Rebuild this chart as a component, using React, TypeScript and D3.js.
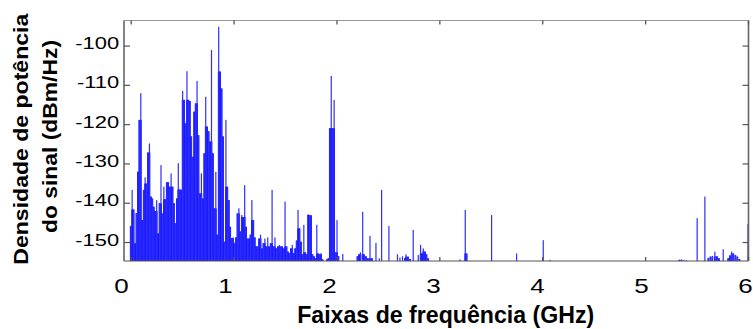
import React from 'react';
import * as d3 from 'd3';

const W = 753;
const H = 329;

const xTicks = [0, 1, 2, 3, 4, 5, 6];
const yTicks = [-150, -140, -130, -120, -110, -100];

// dense part of the spectrum: values on a regular frequency grid
const denseStart = -0.0049; // GHz
const denseStep = 0.014023; // GHz
const denseDb = [
  -145.8, -136.6, -141.6, -150.2, -142.5, -132, -118.8, -112, -144.3, -136.6,
  -133.4, -135, -127.1, -124.8, -138.3, -138.8, -140.9, -142, -139.2, -147.7,
  -140, -130.3, -142.6, -135.8, -139, -134.7, -134.6, -135.8, -132.4, -135.8,
  -140, -145.1, -138.8, -129.8, -136.5, -136.6, -111.4, -113.7, -119.7, -106.4,
  -113.7, -114, -123, -128.2, -116.7, -114.6, -108.9, -122.7, -137.5, -132.4,
  -138.8, -127.3, -112.9, -120.5, -121.7, -124.3, -101, -127.3, -141.3, -132,
  -148, -95.1, -106.5, -110.8, -123, -149.8, -118.8, -135.8, -139.2, -146,
  -148.9, -148.7, -150.1, -148.7, -142.6, -141.3, -147.2, -143, -143.5, -135.4,
  -146, -149, -149, -148, -139.2, -144.3, -148.7, -151, -151, -149,
  -148, -151.5, -150.2, -149, -151, -148.7, -151, -150.2, -136.6, -151,
  -148.7, -151.5, -151, -150.6, -151, -151, -151.5, -139.6, -151, -152.3,
  -152.7, -151.5, -150.6, -152.7, -151.5, -149.5, -141.7, -146.4, -149.8, -153,
  -145.5, -152.5, -153, -142.8, -143, -143.1, -153, -153.5, -154, -145.5,
  -152.8, -153, -152.7, -154.3, -156, -156, -154.3, -154, -120.9, -107.6,
  -120.9, -113.7, -152.5, -144.3, -153.5, -156, -156, -152.9,
];

// isolated spikes and small clusters above 2 GHz
const spikeFreq = [
  2.199, 2.214, 2.228, 2.25, 2.262, 2.282, 2.301, 2.321, 2.34,
  2.379, 2.411, 2.434, 2.505,
  2.588, 2.612, 2.637, 2.661, 2.671, 2.69, 2.71,
  2.741,
  2.79, 2.813, 2.826, 2.839, 2.855, 2.87, 2.887,
  3.195, 3.247, 3.26, 3.503, 3.746, 4.005, 4.07,
  5.327, 5.348, 5.372, 5.398,
  5.501, 5.576,
  5.61, 5.63, 5.649, 5.673, 5.693, 5.712,
  5.754,
  5.803, 5.819, 5.836, 5.853, 5.873, 5.892, 5.912,
  5.995,
];
const spikeDb = [
  -153.5, -153, -152.5, -142.2, -153, -153.5, -154, -148.3, -154,
  -150.1, -154, -136.6, -145.8,
  -153, -153.8, -153.5, -154, -153, -153.6, -154.2,
  -146.8,
  -153.2, -150.6, -152.8, -151.5, -152.3, -153, -154,
  -154.3, -141.7, -152.8, -143, -152.8, -149.4, -154.4,
  -154.4, -154.3, -154.4, -154.5,
  -143.8, -138.3,
  -154, -153.6, -153.4, -152.3, -153.5, -154,
  -151.7,
  -154, -153.3, -152.3, -152.8, -153.2, -153.6, -154.2,
  -145.3,
];

const FONT = "'Liberation Sans', Arial, Helvetica, sans-serif";

export default function App() {
  const x = d3.scaleLinear().domain([-0.07, 6.0]).range([124, 748.5]);
  const y = d3.scaleLinear().domain([-154.7, -93.5]).range([261, 20.5]);
  const labelX = d3.scaleLinear().domain([0, 6]).range([121.5, 745.5]);
  const floor = y.domain()[0];
  const bottom = y(floor);

  const pts = [
    ...denseDb.map((v, i) => ({ f: denseStart + i * denseStep, v })),
    ...spikeFreq.map((f, i) => ({ f, v: spikeDb[i] })),
  ].sort((a, b) => a.f - b.f);

  const bars = pts.map((p, i) => {
    const px = x(p.f);
    let nb = -Infinity;
    for (const j of [i - 1, i + 1]) {
      if (j >= 0 && j < pts.length && Math.abs(x(pts[j].f) - px) < 2.2) {
        nb = Math.max(nb, pts[j].v);
      }
    }
    const solid = Math.min(p.v, nb);
    return { px, v: p.v, solid };
  });

  const left = x.range()[0];
  const right = x.range()[1];
  const top = y.range()[1];

  return (
    <svg
      width={W}
      height={H}
      style={{ position: 'absolute', left: 0, top: 0, background: '#fff' }}
      fontFamily={FONT}
    >
      <rect x={0} y={0} width={W} height={H} fill="#fff" />
      <g>
        {bars.map((b, i) =>
          b.v > floor ? (
            <g key={i}>
              {b.solid > floor && (
                <rect
                  x={b.px - 0.85}
                  y={y(b.solid)}
                  width={1.7}
                  height={bottom - y(b.solid)}
                  fill="#0000ff"
                />
              )}
              <rect
                x={b.px - 0.6}
                y={y(b.v)}
                width={1.2}
                height={bottom - y(b.v)}
                fill="#2f2fff"
              />
            </g>
          ) : null
        )}
      </g>
      {/* frame */}
      <line x1={left} x2={right} y1={top} y2={top} stroke="#999" strokeWidth={1} />
      <line x1={left} x2={right} y1={bottom} y2={bottom} stroke="#555" strokeWidth={1} />
      <line x1={left} x2={left} y1={top} y2={bottom} stroke="#666" strokeWidth={1.6} />
      <line x1={right} x2={right} y1={top} y2={bottom} stroke="#666" strokeWidth={1.6} />
      {/* ticks */}
      {xTicks.map((t) => (
        <g key={'xt' + t}>
          <line x1={x(t)} x2={x(t)} y1={top} y2={top + 4} stroke="#555" strokeWidth={1.3} />
          <line x1={x(t)} x2={x(t)} y1={bottom} y2={bottom - 4} stroke="#555" strokeWidth={1.3} />
        </g>
      ))}
      {yTicks.map((t) => (
        <g key={'yt' + t}>
          <line x1={left} x2={left + 6} y1={y(t)} y2={y(t)} stroke="#555" strokeWidth={1.2} />
          <line x1={right} x2={right - 6} y1={y(t)} y2={y(t)} stroke="#555" strokeWidth={1.2} />
        </g>
      ))}
      {/* tick labels */}
      {yTicks.map((t) => (
        <text
          key={'yl' + t}
          transform={`translate(119.2, ${y(t) + 3}) scale(1.33,1)`}
          textAnchor="end"
          fontSize={16.5}
          fill="#000"
        >
          {String(t)}
        </text>
      ))}
      {xTicks.map((t) => (
        <text
          key={'xl' + t}
          transform={`translate(${labelX(t)}, 293.3) scale(1.3,1)`}
          textAnchor="middle"
          fontSize={20}
          fill="#000"
        >
          {String(t)}
        </text>
      ))}
      {/* axis titles */}
      <text
        x={445.7}
        y={323.3}
        textAnchor="middle"
        fontSize={24}
        fontWeight="bold"
        textLength={297}
        lengthAdjust="spacingAndGlyphs"
        fill="#000"
      >
        Faixas de frequência (GHz)
      </text>
      <text
        transform="translate(28.3, 139.2) rotate(-90)"
        textAnchor="middle"
        fontSize={21}
        fontWeight="bold"
        textLength={251}
        lengthAdjust="spacingAndGlyphs"
        fill="#000"
      >
        Densidade de potência
      </text>
      <text
        transform="translate(56.5, 136.5) rotate(-90)"
        textAnchor="middle"
        fontSize={21}
        fontWeight="bold"
        textLength={193}
        lengthAdjust="spacingAndGlyphs"
        fill="#000"
      >
        do sinal (dBm/Hz)
      </text>
    </svg>
  );
}
